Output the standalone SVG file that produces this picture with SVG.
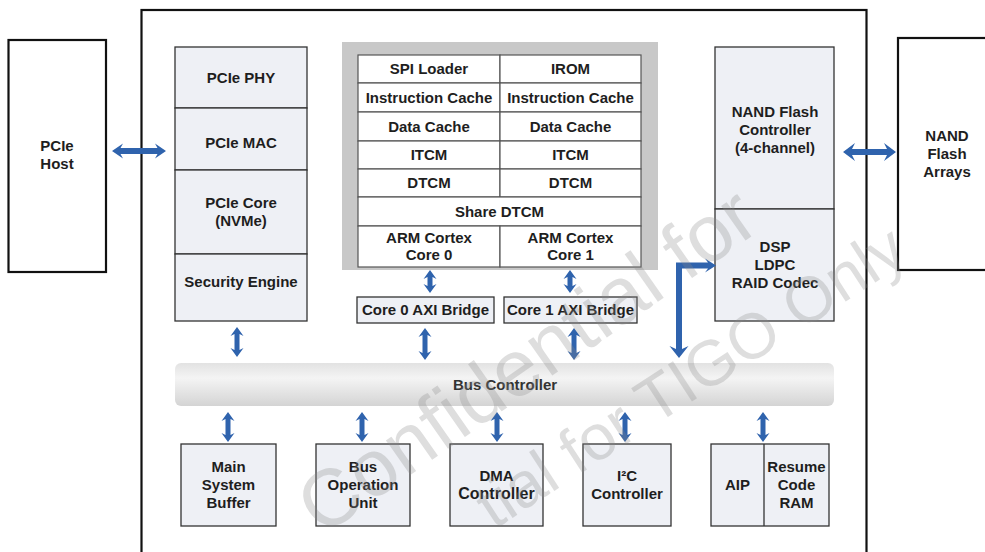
<svg xmlns="http://www.w3.org/2000/svg" xmlns:xlink="http://www.w3.org/1999/xlink" width="985" height="552" viewBox="0 0 985 552">
  <style>
    .ext { fill:#ffffff; stroke:#111111; stroke-width:2.2; }
    .box { fill:#eef0f5; stroke:#333333; stroke-width:1.3; }
    .cell { fill:#ffffff; stroke:#555555; stroke-width:1.2; }
    .t { font-family:"Liberation Sans", Arial, sans-serif; font-size:15px; font-weight:bold; fill:#1e1e1e; text-anchor:middle; }
    .arr { fill:#2f63ad; }
    .wm { font-family:"Liberation Sans", Arial, sans-serif; fill:#8a8a8a; opacity:0.28; }
  </style>
  <defs>
    <linearGradient id="busGrad" x1="0" y1="0" x2="0" y2="1">
      <stop offset="0" stop-color="#e2e2e2"/>
      <stop offset="0.35" stop-color="#f4f4f4"/>
      <stop offset="1" stop-color="#d4d4d4"/>
    </linearGradient>
    <!-- double-headed vertical arrows, tip at origin -->
    <path id="va23" d="M0,0 L6.5,9 L2.5,7 L2.5,16 L6.5,14 L0,23 L-6.5,14 L-2.5,16 L-2.5,7 L-6.5,9 Z"/>
    <path id="va30" d="M0,0 L6.5,9 L2.5,7 L2.5,23 L6.5,21 L0,30 L-6.5,21 L-2.5,23 L-2.5,7 L-6.5,9 Z"/>
    <path id="va32" d="M0,0 L6.5,9 L2.5,7 L2.5,25 L6.5,23 L0,32 L-6.5,23 L-2.5,25 L-2.5,7 L-6.5,9 Z"/>
  </defs>

  <rect width="985" height="552" fill="#ffffff"/>

  <!-- chip boundary -->
  <rect id="chip" x="141.5" y="10" width="725" height="560" fill="none" stroke="#111111" stroke-width="2.2"/>

  <g id="pcie-host">
    <rect class="ext" x="8.5" y="40" width="97.5" height="232"/>
    <text class="t" x="57" y="151">PCIe</text>
    <text class="t" x="57" y="169">Host</text>
  </g>

  <g id="nand-arrays">
    <rect class="ext" x="898" y="38" width="100" height="232"/>
    <text class="t" x="947" y="141">NAND</text>
    <text class="t" x="947" y="159">Flash</text>
    <text class="t" x="947" y="177">Arrays</text>
  </g>

  <g id="pcie-phy">
    <rect class="box" x="175" y="47" width="132" height="61"/>
    <text class="t" x="241" y="83">PCIe PHY</text>
  </g>
  <g id="pcie-mac">
    <rect class="box" x="175" y="108" width="132" height="62"/>
    <text class="t" x="241" y="148">PCIe MAC</text>
  </g>
  <g id="pcie-core">
    <rect class="box" x="175" y="170" width="132" height="84"/>
    <text class="t" x="241" y="208">PCIe Core</text>
    <text class="t" x="241" y="226">(NVMe)</text>
  </g>
  <g id="security-engine">
    <rect class="box" x="175" y="254" width="132" height="67"/>
    <text class="t" x="241" y="287">Security Engine</text>
  </g>

  <g id="cpu-cluster">
    <rect x="342" y="42" width="316" height="228" fill="#c8c8c8"/>
    <rect class="cell" x="358" y="55" width="142" height="28"/>
    <rect class="cell" x="500" y="55" width="141" height="28"/>
    <rect class="cell" x="358" y="83" width="142" height="29"/>
    <rect class="cell" x="500" y="83" width="141" height="29"/>
    <rect class="cell" x="358" y="112" width="142" height="29"/>
    <rect class="cell" x="500" y="112" width="141" height="29"/>
    <rect class="cell" x="358" y="141" width="142" height="28"/>
    <rect class="cell" x="500" y="141" width="141" height="28"/>
    <rect class="cell" x="358" y="169" width="142" height="28"/>
    <rect class="cell" x="500" y="169" width="141" height="28"/>
    <rect class="cell" x="358" y="197" width="283" height="29"/>
    <rect class="cell" x="358" y="226" width="142" height="41"/>
    <rect class="cell" x="500" y="226" width="141" height="41"/>
    <text class="t" x="429" y="74">SPI Loader</text>
    <text class="t" x="570.5" y="74">IROM</text>
    <text class="t" x="429" y="102.5">Instruction Cache</text>
    <text class="t" x="570.5" y="102.5">Instruction Cache</text>
    <text class="t" x="429" y="131.5">Data Cache</text>
    <text class="t" x="570.5" y="131.5">Data Cache</text>
    <text class="t" x="429" y="160">ITCM</text>
    <text class="t" x="570.5" y="160">ITCM</text>
    <text class="t" x="429" y="188">DTCM</text>
    <text class="t" x="570.5" y="188">DTCM</text>
    <text class="t" x="499.5" y="216.5">Share DTCM</text>
    <text class="t" x="429" y="243">ARM Cortex</text>
    <text class="t" x="429" y="260">Core 0</text>
    <text class="t" x="570.5" y="243">ARM Cortex</text>
    <text class="t" x="570.5" y="260">Core 1</text>
  </g>

  <g id="core0-axi">
    <rect class="box" x="357" y="297" width="137" height="26"/>
    <text class="t" x="425.5" y="315">Core 0 AXI Bridge</text>
  </g>
  <g id="core1-axi">
    <rect class="box" x="504" y="297" width="133" height="26"/>
    <text class="t" x="570.5" y="315">Core 1 AXI Bridge</text>
  </g>

  <g id="nand-controller">
    <rect class="box" x="715" y="47" width="119" height="162"/>
    <text class="t" x="775" y="117">NAND Flash</text>
    <text class="t" x="775" y="135">Controller</text>
    <text class="t" x="775" y="153">(4-channel)</text>
  </g>
  <g id="dsp-codec">
    <rect class="box" x="715" y="209" width="119" height="112"/>
    <text class="t" x="775" y="252">DSP</text>
    <text class="t" x="775" y="270">LDPC</text>
    <text class="t" x="775" y="288">RAID Codec</text>
  </g>

  <g id="bus-controller">
    <rect x="175" y="363" width="659" height="43" rx="6" fill="url(#busGrad)"/>
    <text class="t" x="505" y="390" style="fill:#333333">Bus Controller</text>
  </g>

  <g id="main-buffer">
    <rect class="box" x="181" y="444" width="95" height="82"/>
    <text class="t" x="228.5" y="472">Main</text>
    <text class="t" x="228.5" y="490">System</text>
    <text class="t" x="228.5" y="508">Buffer</text>
  </g>
  <g id="bus-op-unit">
    <rect class="box" x="316" y="444" width="94" height="82"/>
    <text class="t" x="363" y="472">Bus</text>
    <text class="t" x="363" y="490">Operation</text>
    <text class="t" x="363" y="508">Unit</text>
  </g>
  <g id="dma">
    <rect class="box" x="450" y="444" width="93" height="82"/>
    <text class="t" x="496.5" y="481">DMA</text>
    <text class="t" x="496.5" y="499" style="font-size:16px">Controller</text>
  </g>
  <g id="i2c">
    <rect class="box" x="583" y="444" width="88" height="82"/>
    <text class="t" x="627" y="481">I²C</text>
    <text class="t" x="627" y="499">Controller</text>
  </g>
  <g id="aip-resume">
    <rect class="box" x="711" y="444" width="118" height="82"/>
    <line x1="764" y1="444" x2="764" y2="526" stroke="#333333" stroke-width="1.3"/>
    <text class="t" x="737.5" y="490">AIP</text>
    <text class="t" x="796.5" y="472">Resume</text>
    <text class="t" x="796.5" y="490">Code</text>
    <text class="t" x="796.5" y="508">RAM</text>
  </g>

  <g id="connectors" class="arr">
    <!-- host / flash links -->
    <path d="M112,151 L123,143.5 L120.5,148 L157.5,148 L155,143.5 L166,151 L155,158.5 L157.5,154 L120.5,154 L123,158.5 Z"/>
    <path d="M843,152 L855,143 L852,149 L887,149 L884,143 L896,152 L884,161 L887,155 L852,155 L855,161 Z"/>
    <!-- cores to AXI bridges -->
    <use xlink:href="#va23" transform="translate(430,270)"/>
    <use xlink:href="#va23" transform="translate(570,270)"/>
    <!-- upper bus links -->
    <use xlink:href="#va30" transform="translate(237,327)"/>
    <use xlink:href="#va32" transform="translate(425,328)"/>
    <use xlink:href="#va32" transform="translate(574,328)"/>
    <!-- bus to DSP codec -->
    <path d="M676,262.5 L708,262.5 L705,258.5 L716,265.5 L705,272.5 L708,268.5 L682,268.5 L682,349 L688.5,346 L679,358 L669.5,346 L676,349 Z"/>
    <!-- lower bus links -->
    <use xlink:href="#va30" transform="translate(228,412)"/>
    <use xlink:href="#va30" transform="translate(362,412)"/>
    <use xlink:href="#va30" transform="translate(497,412)"/>
    <use xlink:href="#va30" transform="translate(625,412)"/>
    <use xlink:href="#va30" transform="translate(763,412)"/>
  </g>

  <!-- confidentiality watermark -->
  <g id="watermark">
    <text class="wm" font-size="80" transform="translate(322,537) rotate(-35)">Confidential for</text>
    <text class="wm" font-size="64" transform="translate(494,530) rotate(-33)">tial for TIGO Only</text>
  </g>
</svg>
